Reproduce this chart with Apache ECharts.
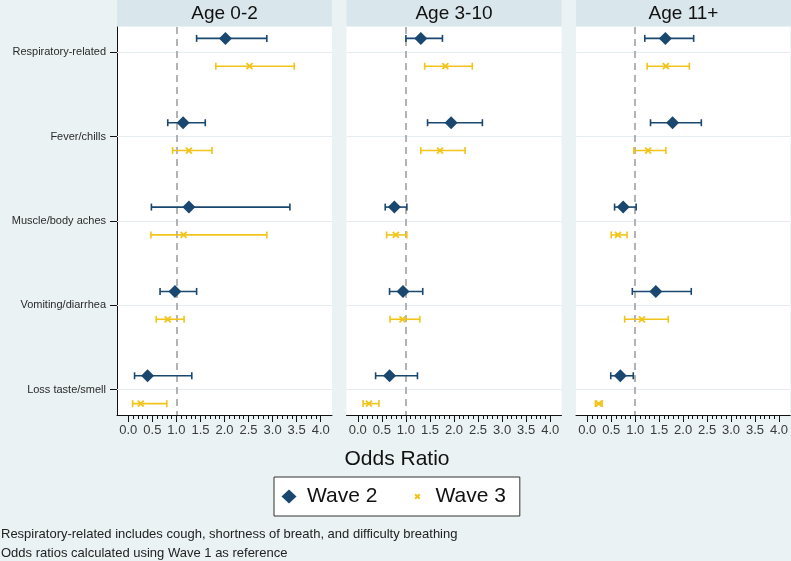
<!DOCTYPE html>
<html><head><meta charset="utf-8">
<script src="https://cdn.jsdelivr.net/npm/echarts@6/dist/echarts.min.js"></script>
<style>html,body{margin:0;padding:0;background:#eaf2f3}#c{width:791px;height:561px}</style>
</head><body><div id="c"></div><script>
// ---- data ----
const categories = ['Respiratory-related', 'Fever/chills', 'Muscle/body aches', 'Vomiting/diarrhea', 'Loss taste/smell'];
const panelTitles = ['Age 0-2', 'Age 3-10', 'Age 11+'];
const xTickLabels = [0, 0.5, 1, 1.5, 2, 2.5, 3, 3.5, 4];
const seriesNames = ['Wave 2', 'Wave 3'];
// each entry: [odds ratio, lower CI, upper CI], in category order
const age0to2_wave2 = [[2.02, 1.42, 2.88], [1.14, 0.82, 1.60], [1.26, 0.48, 3.36], [0.97, 0.66, 1.42], [0.40, 0.13, 1.32]];
const age0to2_wave3 = [[2.52, 1.82, 3.45], [1.26, 0.92, 1.74], [1.15, 0.47, 2.88], [0.82, 0.58, 1.16], [0.26, 0.09, 0.80]];
const age3to10_wave2 = [[1.31, 1.00, 1.76], [1.94, 1.45, 2.59], [0.76, 0.57, 1.02], [0.94, 0.66, 1.35], [0.66, 0.37, 1.24]];
const age3to10_wave3 = [[1.82, 1.39, 2.38], [1.71, 1.31, 2.23], [0.79, 0.60, 1.02], [0.93, 0.67, 1.29], [0.23, 0.11, 0.44]];
const age11plus_wave2 = [[1.63, 1.20, 2.22], [1.78, 1.32, 2.38], [0.75, 0.57, 1.02], [1.43, 0.94, 2.17], [0.69, 0.49, 0.96]];
const age11plus_wave3 = [[1.64, 1.25, 2.13], [1.27, 0.97, 1.64], [0.64, 0.50, 0.83], [1.14, 0.78, 1.69], [0.24, 0.17, 0.31]];
const referenceValue = 1;
const footnotes = ['Respiratory-related includes cough, shortness of breath, and difficulty breathing',
                   'Odds ratios calculated using Wave 1 as reference'];
const xAxisTitle = 'Odds Ratio';

// ---- layout / style ----
const panelData = [[age0to2_wave2, age0to2_wave3], [age3to10_wave2, age3to10_wave3], [age11plus_wave2, age11plus_wave3]];
const COL = ['#1a476f', '#f2c41a'];
const BG = '#eaf2f3', STRIP = '#d9e6eb', GRIDLINE = '#e6edf0';
const panelLeft = [117, 346.5, 576], panelW = 215, plotTop = 27, plotH = 388;
const xMin = -0.235, xMax = 4.235, yMin = 0.7, yMax = 5.3;
const rowOffset = [-0.165, 0.165];
const FONT = 'Liberation Sans, Arial, sans-serif';
const minorTicks = []; for (let k = 0; k <= 40; k++) minorTicks.push(k / 10);
const catPos = categories.map((c, i) => i + 1);
const xIcon = 'path://M0,0L10,10M10,0L0,10';
const diamondLegendIcon = 'path://M0,0L0,0M26,15L26,15M13,0.5L20.5,7.5L13,14.5L5.5,7.5Z';
const xLegendIcon = 'path://M0,0L0,0M26,15L26,15M10.7,5.2L15.3,9.8M15.3,5.2L10.7,9.8';

function errRender(color) {
  return function (params, api) {
    const lo = api.coord([api.value(0), api.value(2)]);
    const hi = api.coord([api.value(1), api.value(2)]);
    const h = 3.5;
    const st = { stroke: color, lineWidth: 1.6 };
    return { type: 'group', children: [
      { type: 'line', shape: { x1: lo[0], y1: lo[1], x2: hi[0], y2: hi[1] }, style: st },
      { type: 'line', shape: { x1: lo[0], y1: lo[1] - h, x2: lo[0], y2: lo[1] + h }, style: st },
      { type: 'line', shape: { x1: hi[0], y1: hi[1] - h, x2: hi[0], y2: hi[1] + h }, style: st }
    ] };
  };
}

const grid = [], xAxis = [], yAxis = [], series = [], graphic = [];
panelTitles.forEach((title, p) => {
  grid.push({ left: panelLeft[p], top: plotTop, width: panelW, height: plotH, show: true, backgroundColor: '#fff', borderWidth: 0 });
  xAxis.push({
    gridIndex: p, type: 'value', min: xMin, max: xMax, position: 'bottom',
    axisLine: { show: true, onZero: false, lineStyle: { color: '#111', width: 1 } },
    axisTick: { show: true, length: 7, customValues: xTickLabels, lineStyle: { color: '#111' } },
    axisLabel: { show: true, customValues: xTickLabels, formatter: v => v.toFixed(1), fontSize: 13, color: '#3a3a3a', margin: 9, fontFamily: FONT },
    splitLine: { show: false }
  });
  xAxis.push({
    gridIndex: p, type: 'value', min: xMin, max: xMax, position: 'bottom', offset: 0,
    axisLine: { show: false, onZero: false },
    axisTick: { show: true, length: 4, customValues: minorTicks, lineStyle: { color: '#111' } },
    axisLabel: { show: false }, splitLine: { show: false }
  });
  yAxis.push({
    gridIndex: p, type: 'value', inverse: true, min: yMin, max: yMax, show: p === 0,
    axisLine: { show: true, onZero: false, lineStyle: { color: '#111', width: 1 } },
    axisTick: { show: true, length: 7, customValues: catPos, lineStyle: { color: '#111' } },
    axisLabel: { customValues: catPos, formatter: v => categories[Math.round(v) - 1] || '', fontSize: 11, color: '#2a2a2a', margin: 11, fontFamily: FONT },
    splitLine: { show: false }
  });
  const xa = p * 2;
  panelData[p].forEach((rows, w) => {
    const errData = rows.map((r, i) => [r[1], r[2], i + 1 + rowOffset[w]]);
    const s = {
      type: 'custom', name: seriesNames[w] + ' CI', xAxisIndex: xa, yAxisIndex: p, z: 2, silent: true,
      renderItem: errRender(COL[w]), encode: { x: [0, 1], y: 2 }, data: errData
    };
    if (w === 0) {
      s.markLine = {
        silent: true, symbol: 'none', z: 1, label: { show: false }, animation: false,
        data: catPos.map(v => ({ yAxis: v, lineStyle: { color: GRIDLINE, width: 1.2, type: 'solid' } }))
          .concat([{ xAxis: referenceValue, lineStyle: { color: '#9a9a9a', width: 1.5, type: [7, 5] } }])
      };
    }
    series.push(s);
  });
  panelData[p].forEach((rows, w) => {
    series.push({
      type: 'scatter', name: seriesNames[w], xAxisIndex: xa, yAxisIndex: p, z: 3, silent: true,
      symbol: w === 0 ? 'diamond' : xIcon,
      symbolSize: w === 0 ? 13 : 6,
      itemStyle: w === 0 ? { color: COL[0], opacity: 1 } : { color: 'rgba(0,0,0,0)', borderColor: COL[1], borderWidth: 1.8, opacity: 1 },
      data: rows.map((r, i) => [r[0], i + 1 + rowOffset[w]])
    });
  });
  graphic.push({ type: 'rect', silent: true, shape: { x: panelLeft[p], y: 0, width: panelW, height: 26 }, style: { fill: STRIP } });
  graphic.push({ type: 'text', silent: true, x: panelLeft[p] + panelW / 2, y: 14,
    style: { text: title, font: '19px ' + FONT, fill: '#111', align: 'center', verticalAlign: 'middle' } });
});
graphic.push({ type: 'text', silent: true, x: 397, y: 459,
  style: { text: xAxisTitle, font: '21px ' + FONT, fill: '#111', align: 'center', verticalAlign: 'middle' } });
footnotes.forEach((t, i) => graphic.push({ type: 'text', silent: true, x: 1, y: 534 + i * 19.5,
  style: { text: t, font: '13px ' + FONT, fill: '#222', align: 'left', verticalAlign: 'middle' } }));

const chart = echarts.init(document.getElementById('c'), null, { renderer: 'canvas' });
chart.setOption({
  backgroundColor: BG, animation: false,
  textStyle: { fontFamily: FONT },
  grid, xAxis, yAxis, series, graphic,
  legend: {
    left: 274, top: 477, orient: 'horizontal', selectedMode: false,
    itemWidth: 26, itemHeight: 15, itemGap: 26, padding: [9, 14, 9, 2],
    borderColor: '#333', borderWidth: 1, backgroundColor: '#fff',
    textStyle: { fontSize: 21, color: '#111', fontFamily: FONT },
    data: [
      { name: seriesNames[0], icon: diamondLegendIcon, itemStyle: { color: COL[0], borderWidth: 0 } },
      { name: seriesNames[1], icon: xLegendIcon, itemStyle: { color: 'rgba(0,0,0,0)', borderColor: COL[1], borderWidth: 2 } }
    ]
  }
});
</script></body></html>
